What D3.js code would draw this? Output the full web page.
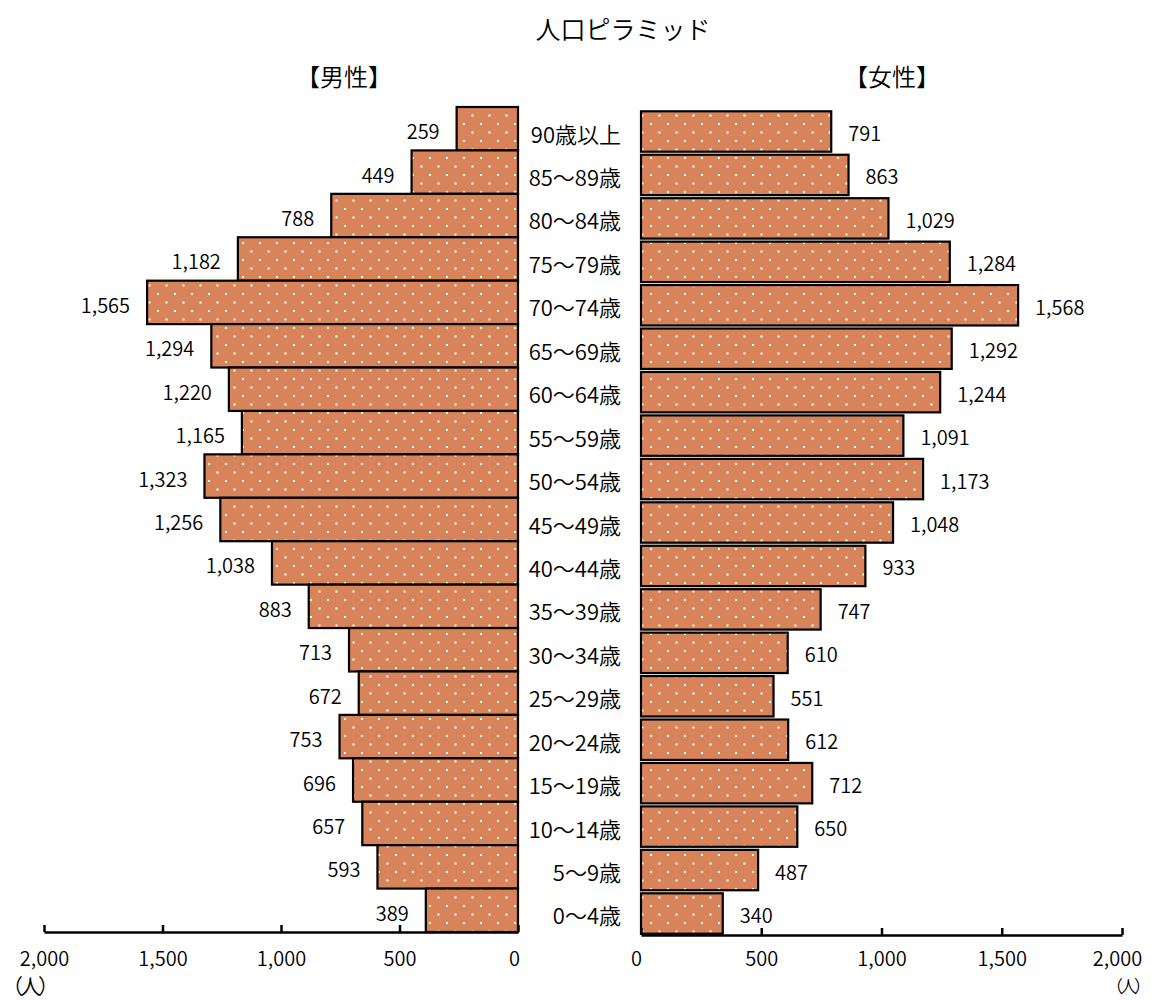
<!DOCTYPE html>
<html>
<head>
<meta charset="utf-8">
<script src="https://cdn.jsdelivr.net/npm/d3@7"></script>
<style>
  body { margin: 0; background: #fff; }
  text { font-family: "Noto Sans CJK JP", sans-serif; font-weight: 350; fill: #000; }
</style>
</head>
<body>
<div id="chart"></div>
<script>
// Population pyramid

var ageGroups = ['90歳以上', '85～89歳', '80～84歳', '75～79歳', '70～74歳', '65～69歳',
  '60～64歳', '55～59歳', '50～54歳', '45～49歳', '40～44歳', '35～39歳', '30～34歳',
  '25～29歳', '20～24歳', '15～19歳', '10～14歳', '5～9歳', '0～4歳'];
var maleValues = [259, 449, 788, 1182, 1565, 1294, 1220, 1165, 1323, 1256, 1038, 883, 713,
  672, 753, 696, 657, 593, 389];
var femaleValues = [791, 863, 1029, 1284, 1568, 1292, 1244, 1091, 1173, 1048, 933, 747, 610,
  551, 612, 712, 650, 487, 340];
var axisTicks = [0, 500, 1000, 1500, 2000];

var male = ageGroups.map(function(a, i) { return { age: a, value: maleValues[i] }; });
var female = ageGroups.map(function(a, i) { return { age: a, value: femaleValues[i] }; });

var svg = d3.select('#chart').append('svg')
  .attr('width', 1151)
  .attr('height', 1000);

// dotted orange fill
var pat = svg.append('defs').append('pattern')
  .attr('id', 'dots')
  .attr('patternUnits', 'userSpaceOnUse')
  .attr('width', 17)
  .attr('height', 17);
pat.append('rect').attr('width', 17).attr('height', 17).attr('fill', '#d8845b');
pat.append('rect').attr('x', 4).attr('y', 4).attr('width', 2).attr('height', 2).attr('fill', '#fff');
pat.append('rect').attr('x', 12.5).attr('y', 12.5).attr('width', 2).attr('height', 2).attr('fill', '#fff');

var xL = d3.scaleLinear().domain([0, 2000]).range([518, 44]);
var xR = d3.scaleLinear().domain([0, 2000]).range([641, 1122]);
var yL = d3.scaleBand().domain(ageGroups).range([107, 932]).padding(0);
var yR = d3.scaleBand().domain(ageGroups).range([110, 935]).paddingInner(0.07).paddingOuter(0.03);

// title + headers
svg.append('text')
  .attr('x', 623).attr('y', 28)
  .attr('text-anchor', 'middle')
  .attr('dominant-baseline', 'central')
  .style('font-size', '25px')
  .text('人口ピラミッド');

svg.append('text')
  .attr('x', 344).attr('y', 75)
  .attr('text-anchor', 'middle')
  .attr('dominant-baseline', 'central')
  .style('font-size', '24px')
  .text('【男性】');

svg.append('text')
  .attr('x', 892).attr('y', 75)
  .attr('text-anchor', 'middle')
  .attr('dominant-baseline', 'central')
  .style('font-size', '24px')
  .text('【女性】');

// male bars
svg.selectAll('.male_bar')
  .data(male)
  .enter().append('rect')
  .attr('class', 'male_bar')
  .attr('x', function(d) { return xL(d.value); })
  .attr('y', function(d) { return yL(d.age); })
  .attr('width', function(d) { return xL(0) - xL(d.value); })
  .attr('height', yL.bandwidth())
  .attr('fill', 'url(#dots)')
  .attr('stroke', '#000')
  .attr('stroke-width', 2.2);

svg.selectAll('.male_label')
  .data(male)
  .enter().append('text')
  .attr('class', 'male_label')
  .attr('x', function(d) { return xL(d.value) - 17; })
  .attr('y', function(d) { return yL(d.age) + yL.bandwidth() / 2 + 2; })
  .attr('text-anchor', 'end')
  .attr('dominant-baseline', 'central')
  .style('font-size', '20px')
  .text(function(d) { return d3.format(',')(d.value); });

// female bars
svg.selectAll('.female_bar')
  .data(female)
  .enter().append('rect')
  .attr('class', 'female_bar')
  .attr('x', xR(0))
  .attr('y', function(d) { return yR(d.age); })
  .attr('width', function(d) { return xR(d.value) - xR(0); })
  .attr('height', yR.bandwidth())
  .attr('fill', 'url(#dots)')
  .attr('stroke', '#000')
  .attr('stroke-width', 2.2);

svg.selectAll('.female_label')
  .data(female)
  .enter().append('text')
  .attr('class', 'female_label')
  .attr('x', function(d) { return xR(d.value) + 17; })
  .attr('y', function(d) { return yR(d.age) + yR.bandwidth() / 2 + 1; })
  .attr('dominant-baseline', 'central')
  .style('font-size', '20px')
  .text(function(d) { return d3.format(',')(d.value); });

// age labels in the middle
svg.selectAll('.age_label')
  .data(ageGroups)
  .enter().append('text')
  .attr('class', 'age_label')
  .attr('x', 621)
  .attr('y', function(d) { return yR(d) + yR.bandwidth() / 2 + 1; })
  .attr('text-anchor', 'end')
  .attr('dominant-baseline', 'central')
  .style('font-size', '22px')
  .text(function(d) { return d; });

// axes
svg.append('g')
  .attr('class', 'axis axis--left')
  .attr('transform', 'translate(0,932)')
  .call(d3.axisBottom(xL).tickValues(axisTicks).tickSizeInner(-7).tickSizeOuter(0)
    .tickPadding(20).tickFormat(d3.format(',')));

svg.append('g')
  .attr('class', 'axis axis--right')
  .attr('transform', 'translate(0,935)')
  .call(d3.axisBottom(xR).tickValues(axisTicks).tickSizeInner(-7).tickSizeOuter(0)
    .tickPadding(17).tickFormat(d3.format(',')));

svg.selectAll('.axis path, .axis line')
  .attr('stroke', '#000')
  .attr('stroke-width', 2.5);
svg.selectAll('.axis text')
  .style('font-size', '20px')
  .style('font-family', '"Noto Sans CJK JP", sans-serif')
  .style('font-weight', 350);
svg.select('.axis--left').selectAll('.tick text')
  .attr('dx', function(d) { return d === 0 ? -4 : 0; });
svg.select('.axis--right').selectAll('.tick text')
  .attr('dx', function(d) { return d === 0 ? -5 : (d === 2000 ? -5 : 0); });

// unit labels
svg.append('text')
  .attr('x', 29).attr('y', 985)
  .attr('text-anchor', 'middle')
  .attr('dominant-baseline', 'central')
  .attr('letter-spacing', -3)
  .style('font-size', '21px')
  .text('（人）');

svg.append('text')
  .attr('x', 1127).attr('y', 985)
  .attr('text-anchor', 'middle')
  .attr('dominant-baseline', 'central')
  .attr('letter-spacing', -3)
  .style('font-size', '17px')
  .text('（人）');
</script>
</body>
</html>
